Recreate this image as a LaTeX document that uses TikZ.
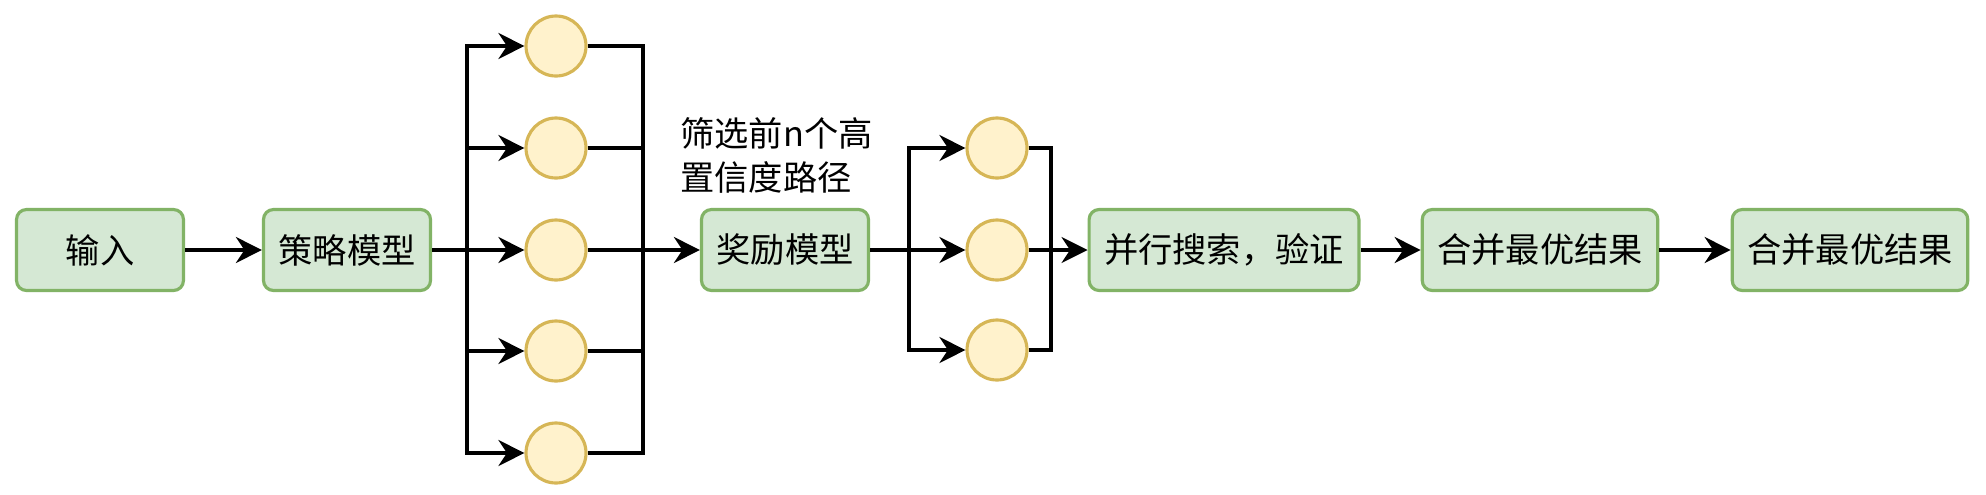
\documentclass[tikz,border=0pt]{standalone}
\usepackage{fontspec}
\setmainfont{Noto Sans CJK SC}
\usetikzlibrary{arrows.meta, positioning, calc}
\definecolor{stagefill}{HTML}{D5E8D4}
\definecolor{stageline}{HTML}{82B366}
\definecolor{candfill}{HTML}{FFF2CC}
\definecolor{candline}{HTML}{D6B656}

\begin{document}
\begin{tikzpicture}[x=0.02cm, y=-0.02cm,
    stage/.style={draw=stageline, fill=stagefill, line width=1.8pt, rounded corners=0.2cm,
        minimum width=3.34cm, minimum height=1.62cm, inner xsep=0.3cm,
        font=\fontsize{19.5}{25}\selectfont},
    cand/.style={circle, draw=candline, fill=candfill, line width=1.8pt, minimum size=1.2cm},
    wire/.style={line width=1.9pt},
    flow/.style={wire, -{Stealth[length=0.52cm, width=0.52cm, inset=0.17cm]}}]
\useasboundingbox (0,0) rectangle (1986,494);
% Main stages
\node[stage] (input) at (100,250) {输入};
\node[stage] (policy) at (347,250) {策略模型};
\node[stage] (reward) at (785,250) {奖励模型};
\node[stage] (search) at (1224,250) {并行搜索，验证};
\node[stage] (merge) at (1540,250) {合并最优结果};
\node[stage] (final) at (1850,250) {合并最优结果};
\node[font=\fontsize{19.5}{25}\selectfont, align=left, anchor=west, inner sep=0pt] (note) at (680,155) {筛选前n个高\\置信度路径};

% Candidate paths
\foreach \i/\y in {1/46, 2/148, 3/250, 4/351, 5/453}
    \node[cand] (a\i) at (556,\y) {};
\foreach \i/\y in {1/148, 2/250, 3/350}
    \node[cand] (b\i) at (997,\y) {};
\coordinate (split) at (467,250);
\coordinate (join) at (643,250);
\coordinate (fork) at (909,250);
\coordinate (gather) at (1051,250);

% Connectors
\draw[flow] (input) -- (policy);
\draw[wire] (policy) -- (split);
\foreach \i in {1,...,5} {
    \draw[flow] (split) |- (a\i);
    \draw[wire] (a\i) -| (join);
}
\draw[flow] (join) -- (reward);
\draw[wire] (reward) -- (fork);
\foreach \i in {1,2,3} {
    \draw[flow] (fork) |- (b\i);
    \draw[wire] (b\i) -| (gather);
}
\draw[flow] (gather) -- (search);
\draw[flow] (search) -- (merge);
\draw[flow] (merge) -- (final);
\end{tikzpicture}
\end{document}
